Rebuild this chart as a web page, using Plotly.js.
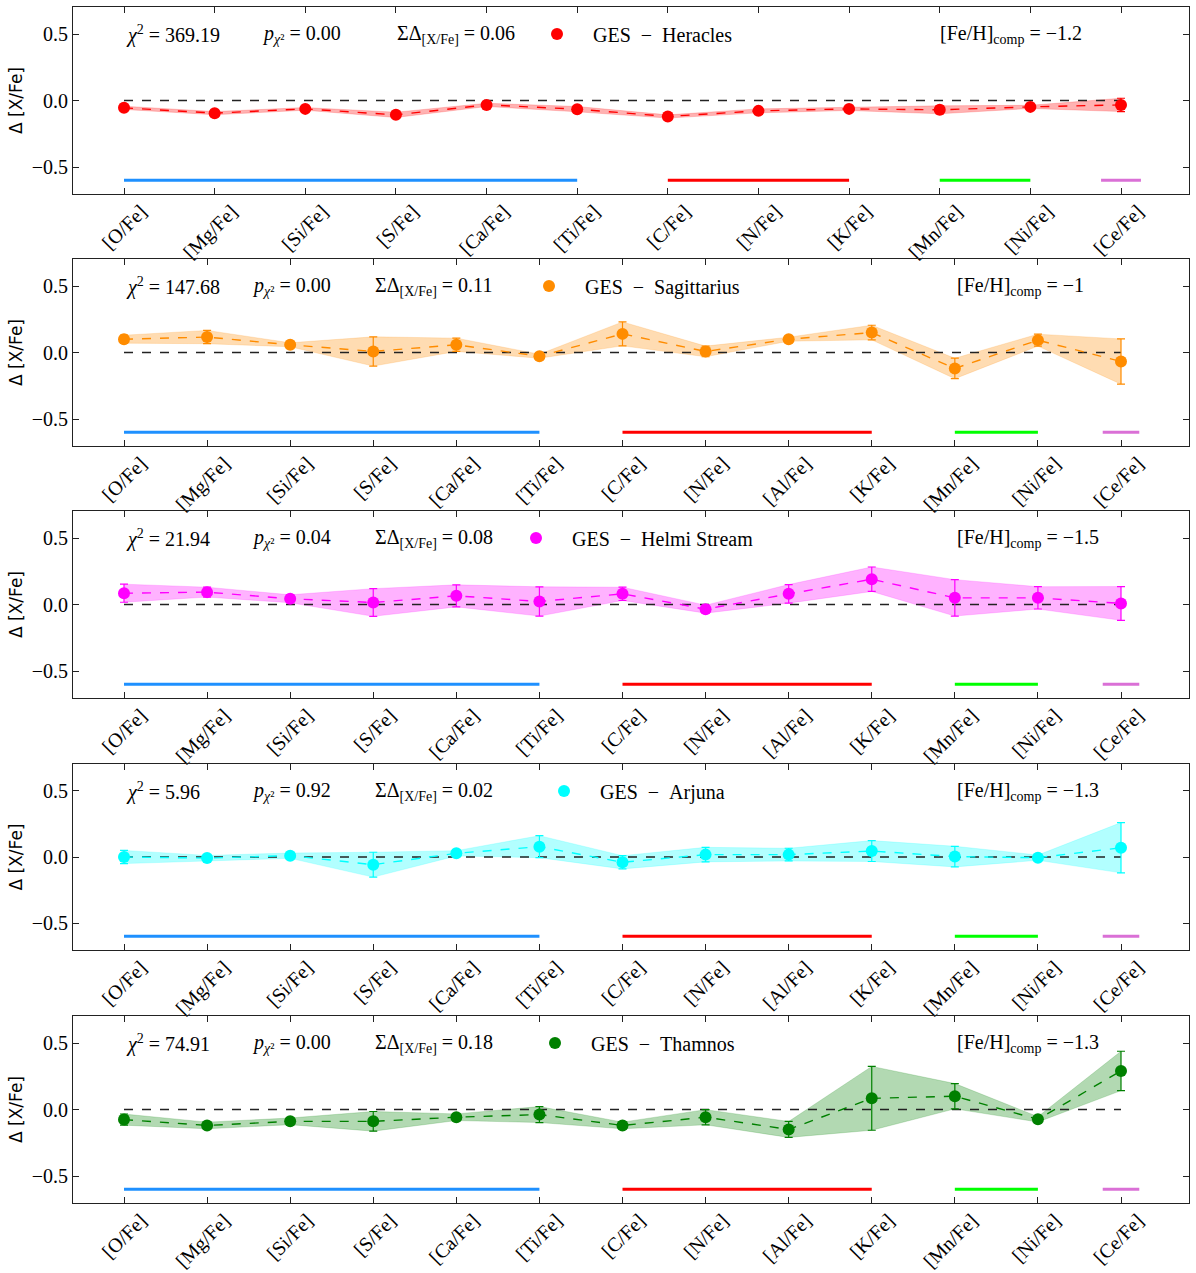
<!DOCTYPE html>
<html>
<head>
<meta charset="utf-8">
<script src="https://cdn.plot.ly/plotly-3.0.1.min.js"></script>
<style>html,body{margin:0;padding:0;background:#fff;}#chart{width:1196px;height:1273px;}</style>
</head>
<body>
<div id="chart"></div>
<script>
// ---------------- DATA ----------------
const catsHeracles = ['[O/Fe]','[Mg/Fe]','[Si/Fe]','[S/Fe]','[Ca/Fe]','[Ti/Fe]','[C/Fe]','[N/Fe]','[K/Fe]','[Mn/Fe]','[Ni/Fe]','[Ce/Fe]'];
const catsFull = ['[O/Fe]','[Mg/Fe]','[Si/Fe]','[S/Fe]','[Ca/Fe]','[Ti/Fe]','[C/Fe]','[N/Fe]','[Al/Fe]','[K/Fe]','[Mn/Fe]','[Ni/Fe]','[Ce/Fe]'];

const heraclesVals = [-0.055,-0.095,-0.063,-0.108,-0.033,-0.065,-0.12,-0.078,-0.063,-0.07,-0.048,-0.033];
const heraclesErr  = [0.012,0.012,0.010,0.020,0.012,0.020,0.012,0.015,0.012,0.030,0.012,0.050];

const sagVals = [0.10,0.116,0.058,0.008,0.058,-0.028,0.14,0.008,0.10,0.15,-0.12,0.093,-0.068];
const sagErr  = [0.03,0.05,0.015,0.11,0.05,0.015,0.09,0.04,0.015,0.055,0.077,0.045,0.17];

const helmiVals = [0.085,0.093,0.043,0.015,0.065,0.023,0.08,-0.035,0.08,0.19,0.05,0.05,0.008];
const helmiErr  = [0.068,0.037,0.03,0.104,0.083,0.11,0.05,0.03,0.07,0.092,0.137,0.084,0.127];

const arjunaVals = [0.0,-0.008,0.01,-0.058,0.028,0.078,-0.04,0.018,0.018,0.045,0.003,-0.005,0.07];
const arjunaErr  = [0.05,0.02,0.02,0.094,0.02,0.083,0.05,0.055,0.048,0.079,0.078,0.02,0.19];

const thamnosVals = [-0.076,-0.12,-0.089,-0.089,-0.058,-0.038,-0.12,-0.058,-0.15,0.084,0.10,-0.074,0.29];
const thamnosErr  = [0.042,0.025,0.025,0.074,0.025,0.06,0.025,0.057,0.06,0.24,0.095,0.02,0.148];

const streamNames = ['GES\u00a0\u00a0−\u00a0\u00a0Heracles','GES\u00a0\u00a0−\u00a0\u00a0Sagittarius','GES\u00a0\u00a0−\u00a0\u00a0Helmi Stream','GES\u00a0\u00a0−\u00a0\u00a0Arjuna','GES\u00a0\u00a0−\u00a0\u00a0Thamnos'];
const chi2Vals  = ['369.19','147.68','21.94','5.96','74.91'];
const pChi2Vals = ['0.00','0.00','0.04','0.92','0.00'];
const sumDelta  = ['0.06','0.11','0.08','0.02','0.18'];
const fehComp   = ['−1.2','−1','−1.5','−1.3','−1.3'];

// element groups drawn as bars at the bottom of each panel
const groupStart = ['[O/Fe]','[C/Fe]','[Mn/Fe]','[Ce/Fe]'];
const groupEnd   = ['[Ti/Fe]','[K/Fe]','[Ni/Fe]','[Ce/Fe]'];
const groupLevel = -0.6;
const yTicks = [-0.5, 0, 0.5];

// ---------------- STYLE ----------------
const colors = ['#ff0000','#ff8c00','#ff00ff','#00ffff','#008000'];
const bands  = ['rgba(255,0,0,0.3)','rgba(255,140,0,0.3)','rgba(255,0,255,0.3)','rgba(0,255,255,0.3)','rgba(0,128,0,0.3)'];
const groupColors = ['#1e90ff','#ff0000','#00ff00','#da70d6'];
const FONT = 'Liberation Serif, Times New Roman, serif';
const SANS = 'DejaVu Sans, sans-serif';

const catsList = [catsHeracles, catsFull, catsFull, catsFull, catsFull];
const valsList = [heraclesVals, sagVals, helmiVals, arjunaVals, thamnosVals];
const errsList = [heraclesErr, sagErr, helmiErr, arjunaErr, thamnosErr];

// pixel layout (1196 x 1273 page)
const L = 73, R = 1189, T = 7, B = 1203;
const W = R - L, H = B - T;
const panelPx = [[7,194],[259,446],[511,698],[764,950],[1016,1203]];
const annPx = [
  {chi:124, p:260, s:395, leg:557, feh:938},
  {chi:124, p:250, s:373, leg:549, feh:955},
  {chi:124, p:250, s:373, leg:536, feh:955},
  {chi:124, p:250, s:373, leg:564, feh:955},
  {chi:124, p:250, s:373, leg:555, feh:955}
];
const px2x = p => (p - L) / W;
const px2y = p => (B - p) / H;

const traces = [];
const layout = {
  width: 1196, height: 1273,
  margin: {l: L, r: 1196 - R, t: T, b: 1273 - B},
  paper_bgcolor: '#fff', plot_bgcolor: '#fff',
  font: {family: FONT, size: 20, color: '#000'},
  annotations: [], showlegend: true
};

for (let i = 0; i < 5; i++) {
  const cats = catsList[i], vals = valsList[i], errs = errsList[i];
  const xs = cats.map((c, k) => k);
  const n = cats.length;
  const xa = 'x' + (i ? i + 1 : ''), ya = 'y' + (i ? i + 1 : '');
  const xk = 'xaxis' + (i ? i + 1 : ''), yk = 'yaxis' + (i ? i + 1 : '');
  const legKey = 'legend' + (i ? i + 1 : '');
  const lo = vals.map((v, k) => v - errs[k]);
  const hi = vals.map((v, k) => v + errs[k]);

  // band
  traces.push({x: xs, y: lo, xaxis: xa, yaxis: ya, mode: 'lines', line: {width: 0.6, color: bands[i]}, showlegend: false, hoverinfo: 'skip'});
  traces.push({x: xs, y: hi, xaxis: xa, yaxis: ya, mode: 'lines', line: {width: 0.6, color: bands[i]}, fill: 'tonexty', fillcolor: bands[i], showlegend: false, hoverinfo: 'skip'});
  // zero reference line
  traces.push({x: [xs[0], xs[n - 1]], y: [0, 0], xaxis: xa, yaxis: ya, mode: 'lines', line: {color: '#222', width: 1.5, dash: 'dash'}, showlegend: false, hoverinfo: 'skip'});
  // data
  traces.push({x: xs, y: vals, xaxis: xa, yaxis: ya, mode: 'lines+markers',
    line: {color: colors[i], width: 1.4, dash: 'dash'},
    marker: {color: colors[i], size: 12},
    error_y: {type: 'data', array: errs, visible: true, color: colors[i], thickness: 1.2, width: 4},
    showlegend: false});
  // legend entry (marker only)
  traces.push({x: [null], y: [null], xaxis: xa, yaxis: ya, mode: 'markers', marker: {color: colors[i], size: 12},
    name: streamNames[i], legend: legKey, showlegend: true});
  // group bars
  for (let g = 0; g < groupStart.length; g++) {
    let a = cats.indexOf(groupStart[g]), b = cats.indexOf(groupEnd[g]);
    if (a === b) { a -= 0.22; b += 0.22; }
    traces.push({x: [a, b], y: [groupLevel, groupLevel], xaxis: xa, yaxis: ya, mode: 'lines',
      line: {color: groupColors[g], width: 3}, showlegend: false, hoverinfo: 'skip'});
  }

  const pTop = panelPx[i][0], pBot = panelPx[i][1];
  const spacing = (1121 - 124) / (n - 1);
  layout[xk] = {
    domain: [0, 1], anchor: ya,
    range: [-(124 - L) / spacing, (n - 1) + (R - 1121) / spacing],
    tickmode: 'array', tickvals: xs, ticktext: cats, tickangle: -45,
    ticks: 'inside', ticklen: 6, tickwidth: 1, tickcolor: '#222',
    showline: true, linecolor: '#222', linewidth: 1, mirror: 'ticks',
    showgrid: false, zeroline: false,
    ticklabelshift: 17, ticklabelstandoff: -3,
    tickfont: {family: FONT, size: 20, color: '#000'}
  };
  layout[yk] = {
    domain: [px2y(pBot), px2y(pTop)], anchor: xa,
    range: [-0.703, 0.703],
    tickmode: 'array', tickvals: yTicks, tickformat: '.1f',
    ticks: 'inside', ticklen: 6, tickwidth: 1, tickcolor: '#222',
    showline: true, linecolor: '#222', linewidth: 1, mirror: 'ticks',
    showgrid: false, zeroline: false,
    tickfont: {family: FONT, size: 20, color: '#000'},
    title: {text: 'Δ [X/Fe]', font: {family: SANS, size: 17}, standoff: 4}
  };

  const yText = px2y(pTop + 27);
  const a = annPx[i];
  const common = {xref: 'paper', yref: 'paper', y: yText, yanchor: 'middle', xanchor: 'left', showarrow: false, font: {family: FONT, size: 20, color: '#000'}};
  layout.annotations.push(Object.assign({}, common, {x: px2x(a.chi), text: '<i>χ</i><sup>2</sup> = ' + chi2Vals[i]}));
  layout.annotations.push(Object.assign({}, common, {x: px2x(a.p), text: '<i>p</i><sub><i>χ</i>²</sub> = ' + pChi2Vals[i]}));
  layout.annotations.push(Object.assign({}, common, {x: px2x(a.s), text: 'ΣΔ<sub>[X/Fe]</sub> = ' + sumDelta[i]}));
  layout.annotations.push(Object.assign({}, common, {x: px2x(a.feh), text: '[Fe/H]<sub>comp</sub> = ' + fehComp[i]}));
  layout[legKey] = {
    x: px2x(a.leg - 36), y: yText, xref: 'paper', yref: 'paper', xanchor: 'left', yanchor: 'middle',
    bgcolor: 'rgba(0,0,0,0)', borderwidth: 0,
    font: {family: FONT, size: 20, color: '#000'}, itemwidth: 62
  };
}

Plotly.newPlot('chart', traces, layout, {displayModeBar: false, staticPlot: true});
</script>
</body>
</html>
